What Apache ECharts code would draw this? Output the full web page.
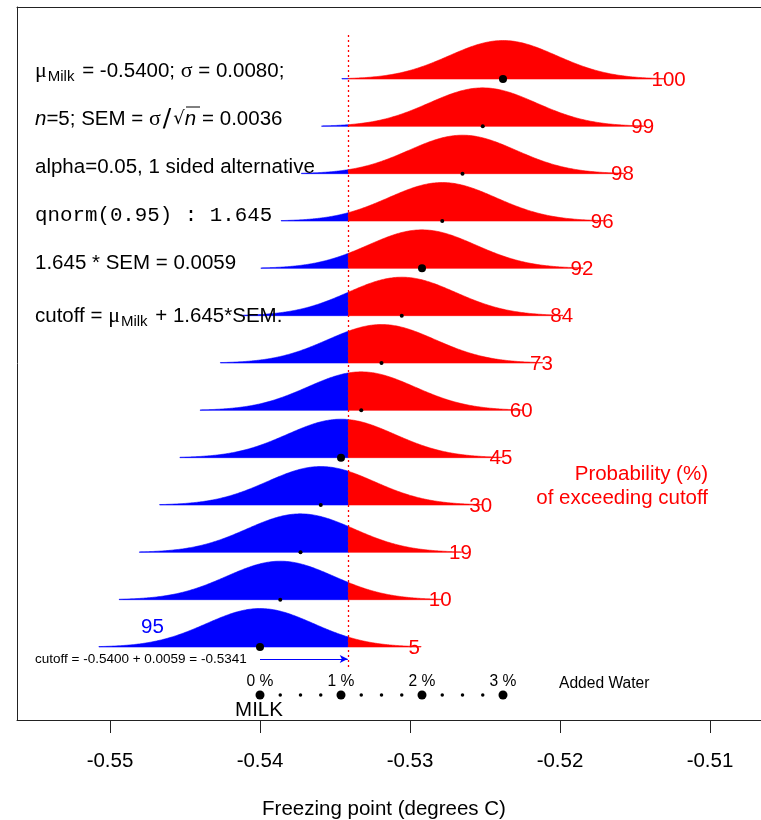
<!DOCTYPE html>
<html>
<head>
<meta charset="utf-8">
<script src="https://cdn.jsdelivr.net/npm/echarts@6/dist/echarts.min.js"></script>
<style>html,body{margin:0;padding:0;background:#fff}#c{width:761px;height:820px}</style>
</head>
<body>
<div id="c"></div>
<script>
// ---- data ----
const probLabels = [5, 10, 19, 30, 45, 60, 73, 84, 92, 96, 98, 99, 100];
const means = [-0.5400, -0.53865, -0.5373, -0.53595, -0.5346, -0.53325, -0.5319, -0.53055, -0.5292, -0.52785, -0.5265, -0.52515, -0.5238];
const waterPct = [0, 0.25, 0.5, 0.75, 1, 1.25, 1.5, 1.75, 2, 2.25, 2.5, 2.75, 3];
const xTicks = [-0.55, -0.54, -0.53, -0.52, -0.51];
const muMilk = -0.5400;
const sem = 0.00358;
const cutoff = -0.5341;

// ---- style / layout ----
const SANS = '"Liberation Sans", Arial, sans-serif';
const SERIF = '"Liberation Serif", "DejaVu Serif", serif';
const MONO = '"Liberation Mono", "Courier New", monospace';
const RED = '#ff0000', BLUE = '#0000ff', AX = '#222';
const FS = 20.5;
const peak = 0.813;
const waterRowY = -1.014;
const X_MIN = -0.5562, X_MAX = -0.5066;

const chart = echarts.init(document.getElementById('c'), null, {renderer: 'canvas'});

function curveItem(params, api) {
  const m = api.value(0), row = api.value(1), lab = api.value(2);
  const lo = m - 3 * sem, hi = m + 3 * sem;
  const N = 160;
  const pt = (x) => {
    const z = (x - m) / sem;
    return api.coord([x, row + peak * Math.exp(-z * z / 2)]);
  };
  const base = (x) => api.coord([x, row]);
  const children = [];
  const split = Math.min(Math.max(cutoff, lo), hi);
  function poly(a, b, color) {
    if (b <= a) return;
    const pts = [base(a)];
    for (let i = 0; i <= N; i++) pts.push(pt(a + (b - a) * i / N));
    pts.push(base(b));
    children.push({type: 'polygon', shape: {points: pts}, style: {fill: color, stroke: color, lineWidth: 0.6}});
  }
  poly(lo, split, BLUE);
  poly(split, hi, RED);
  const lp = api.coord([m + 0.0099, row]);
  children.push({type: 'text', x: lp[0], y: lp[1] + 1, z2: 10,
    style: {text: String(lab), fill: RED, font: FS + 'px ' + SANS, textAlign: 'left', textVerticalAlign: 'middle', verticalAlign: 'middle'}});
  return {type: 'group', children: children};
}

function txt(x, y, text, extra) {
  return Object.assign({type: 'text', x: x, y: y, z: 100,
    style: Object.assign({text: text, fill: '#000', font: FS + 'px ' + SANS, textAlign: 'left', textVerticalAlign: 'middle', verticalAlign: 'middle'}, (extra || {}))});
}

const richBase = {
  t: {fontFamily: SANS, fontSize: FS, lineHeight: 26, verticalAlign: 'middle', color: '#000'},
  g: {fontFamily: SERIF, fontSize: 22, lineHeight: 26, verticalAlign: 'middle', color: '#000'},
  sub: {fontFamily: SANS, fontSize: 15, lineHeight: 16, verticalAlign: 'bottom', color: '#000', padding: [0, 2, 0, 1]},
  it: {fontFamily: SANS, fontStyle: 'italic', fontSize: FS, lineHeight: 26, verticalAlign: 'middle', color: '#000'},
  sl: {fontFamily: '"DejaVu Sans", sans-serif', fontSize: 25, lineHeight: 26, verticalAlign: 'middle', color: '#000', padding: [0, 2, 0, 2]},
  rt: {fontFamily: '"DejaVu Sans", sans-serif', fontSize: 18, lineHeight: 26, verticalAlign: 'middle', color: '#000'},
  itn: {fontFamily: SANS, fontStyle: 'italic', fontSize: FS, lineHeight: 26, verticalAlign: 'middle', color: '#000', padding: [0, 6, 0, 0]}
};
function rtxt(x, y, text) {
  return {type: 'text', x: x, y: y, z: 100,
    style: {text: text, rich: richBase, textAlign: 'left', textVerticalAlign: 'middle', verticalAlign: 'middle', fill: '#000', font: FS + 'px ' + SANS}};
}

const option = {
  animation: false,
  backgroundColor: '#fff',
  grid: {left: 17, top: 7, right: 0, bottom: 100, show: false, containLabel: false},
  xAxis: [
    {
      type: 'value', min: X_MIN, max: X_MAX, position: 'bottom',
      axisLine: {show: true, onZero: false, lineStyle: {color: AX, width: 1}},
      axisTick: {show: true, customValues: xTicks, length: 13, inside: false, lineStyle: {color: AX}},
      axisLabel: {show: true, customValues: xTicks, margin: 31, color: '#000', fontSize: FS, fontFamily: SANS,
        formatter: (v) => v.toFixed(2)},
      splitLine: {show: false}
    },
    {
      type: 'value', min: X_MIN, max: X_MAX, position: 'top',
      axisLine: {show: true, onZero: false, lineStyle: {color: AX, width: 1}},
      axisTick: {show: false}, axisLabel: {show: false}, splitLine: {show: false}
    }
  ],
  yAxis: {type: 'value', min: -1.5423, max: 13.5211, position: 'left',
    axisLine: {show: true, onZero: false, lineStyle: {color: AX, width: 1}},
    axisTick: {show: false}, axisLabel: {show: false}, splitLine: {show: false}},
  series: [
    {
      type: 'custom', name: 'curves', renderItem: curveItem, clip: false, z: 2,
      encode: {x: 0, y: 1},
      data: means.map((m, k) => [m, k, probLabels[k]])
    },
    {
      type: 'scatter', name: 'curveDots', z: 5,
      symbolSize: (v) => Number.isInteger(v[2]) ? 8 : 4,
      itemStyle: {color: '#000', opacity: 1},
      data: means.map((m, k) => [m, k, waterPct[k]]),
      markLine: {
        silent: true, animation: false, label: {show: false}, symbol: ['none', 'none'],
        data: [
          [{coord: [cutoff, 12.93], lineStyle: {color: RED, type: [2, 3], width: 1.3}}, {coord: [cutoff, -0.42]}],
          [{coord: [muMilk, -0.2535], symbol: 'none', lineStyle: {color: BLUE, type: 'solid', width: 1}},
           {coord: [cutoff - 0.00005, -0.2535], symbol: 'arrow', symbolSize: [6, 8]}]
        ]
      }
    },
    {
      type: 'scatter', name: 'waterScale', z: 5,
      symbolSize: (v) => Number.isInteger(v[2]) ? 9 : 3.5,
      itemStyle: {color: '#000', opacity: 1},
      label: {show: true, position: 'inside', offset: [0, -13], color: '#000', fontSize: 15.6, fontFamily: SANS,
        formatter: (p) => Number.isInteger(p.value[2]) ? p.value[2] + ' %' : ''},
      data: means.map((m, k) => [m, waterRowY, waterPct[k]])
    }
  ],
  graphic: [
    rtxt(35, 71, '{g|μ}{sub|Milk}{t| = -0.5400; }{g|σ}{t| = 0.0080;}'),
    rtxt(35, 119, '{it|n}{t|=5; SEM = }{g|σ}{sl|/}{rt|√}{itn|n}{t|= 0.0036}'),
    txt(35, 167, 'alpha=0.05, 1 sided alternative'),
    txt(35, 215, 'qnorm(0.95) : 1.645', {font: '20.8px ' + MONO}),
    txt(35, 263, '1.645 * SEM = 0.0059'),
    rtxt(35, 316, '{t|cutoff = }{g|μ}{sub|Milk}{t| + 1.645*SEM.}'),
    txt(141, 627, '95', {fill: BLUE}),
    txt(35, 659, 'cutoff = -0.5400 + 0.0059 = -0.5341', {font: '13.5px ' + SANS}),
    txt(708, 474, 'Probability (%)', {fill: RED, textAlign: 'right'}),
    txt(708, 498, 'of exceeding cutoff', {fill: RED, textAlign: 'right'}),
    txt(559, 684, 'Added Water', {font: '15.6px ' + SANS}),
    txt(259, 710, 'MILK', {textAlign: 'center'}),
    txt(384, 809, 'Freezing point (degrees C)', {textAlign: 'center'}),
    {type: 'line', z: 100, shape: {x1: 186, y1: 107, x2: 200, y2: 107}, style: {stroke: '#000', lineWidth: 1}}
  ]
};
chart.setOption(option);
</script>
</body>
</html>
